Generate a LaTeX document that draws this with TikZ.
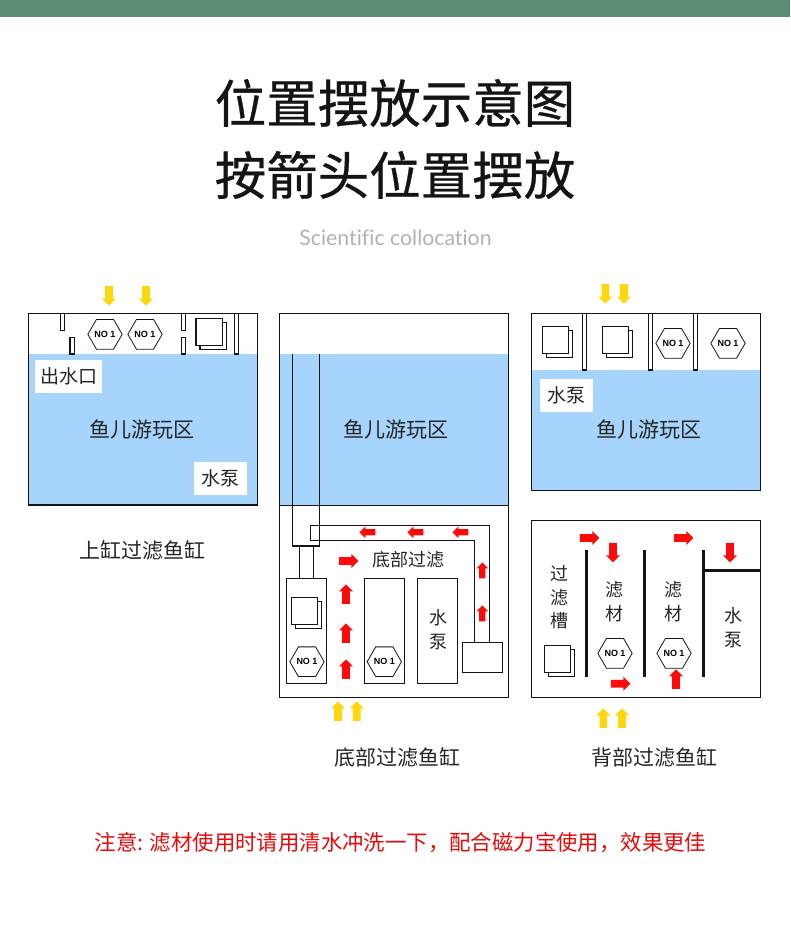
\documentclass[tikz,border=0pt]{standalone}
\usepackage{fontspec}
\usepackage{xcolor}
\setmainfont{Noto Sans CJK SC}
\newfontfamily\titlefont[FakeBold=0.6]{Noto Sans CJK SC}
\newfontfamily\latinfont[Ligatures=NoCommon]{Lato}
\newfontfamily\hexfont{Liberation Sans}
\usetikzlibrary{positioning,shapes.geometric,shapes.arrows}
\definecolor{headgreen}{HTML}{5B8C74}
\definecolor{watercol}{HTML}{A6D4FD}
\definecolor{arrowyellow}{HTML}{FFD60A}
\definecolor{arrowred}{HTML}{FF0A0A}
\definecolor{inkline}{HTML}{141414}

\begin{document}
\begin{tikzpicture}[
  x=1pt, y=-1pt,
  tankline/.style={draw=inkline, line width=1.1pt},
  thickbar/.style={draw=inkline, line width=2.8pt},
  water/.style={fill=watercol},
  tag/.style={fill=white, inner sep=0pt, font=\fontsize{19}{19}\selectfont, text=black!85},
  label/.style={inner sep=0pt, font=\fontsize{21}{21}\selectfont, text=black!85},
  small/.style={inner sep=0pt, font=\fontsize{18}{18}\selectfont, text=black!85},
  hexfilter/.style={draw=inkline, fill=white, line width=0.8pt, regular polygon, regular polygon sides=6, minimum size=32pt, inner sep=0pt, font=\hexfont\bfseries\fontsize{9}{9}\selectfont},
  bigarrow/.style={single arrow, draw=none, inner xsep=0pt, inner ysep=3.6pt, single arrow head extend=3.2pt, minimum height=19.5pt},
  thinarrow/.style={single arrow, draw=none, inner xsep=0pt, inner ysep=2.9pt, single arrow head extend=2.9pt, minimum height=16pt},
  yellowdown/.style={bigarrow, fill=arrowyellow, rotate=270},
  yellowup/.style={bigarrow, fill=arrowyellow, rotate=90},
  redright/.style={bigarrow, fill=arrowred},
  redup/.style={bigarrow, fill=arrowred, rotate=90},
  reddown/.style={bigarrow, fill=arrowred, rotate=270},
  redleft/.style={thinarrow, fill=arrowred, rotate=180},
  redrise/.style={thinarrow, fill=arrowred, rotate=90},
  sheets/.pic={
    \draw[tankline, fill=white] (4,4) rectangle (30.4,31.4);
    \draw[tankline, fill=white] (0,0) rectangle (26.4,27.4);
  }
]
\useasboundingbox (0,0) rectangle (790,937);
\fill[headgreen] (0,0) rectangle (790,17);

% heading
\node[inner sep=0pt, font=\titlefont\fontsize{51.5}{52}\selectfont, text=black!92] (title) at (395,103) {位置摆放示意图};
\node[inner sep=0pt, font=\titlefont\fontsize{51.5}{52}\selectfont, text=black!92] (subtitle) at (395,175) {按箭头位置摆放};
\node[inner sep=0pt, font=\latinfont\fontsize{21.3}{24}\selectfont, text=black!30] (english) at (395.5,238) {Scientific collocation};

% upper tank
\fill[water] (28.3,354) rectangle (257.7,505);
\draw[tankline] (28.3,313.3) rectangle (257.7,505);
\draw[tankline] (60.3,313.3) rectangle (64.5,330.3);
\draw[tankline] (70,337.3) rectangle (74.3,354);
\draw[tankline] (181.3,313.3) rectangle (185.7,330.3);
\draw[tankline] (181.3,337.3) rectangle (185.7,354);
\draw[tankline] (234.3,313.3) rectangle (238.7,354);
\node[hexfilter] (upperhexa) at (105,334.3) {NO 1};
\node[hexfilter] (upperhexb) at (145,334.3) {NO 1};
\pic at (196,318.3) {sheets};
\node[yellowdown] (upperya) at (109,294) {};
\node[yellowdown] (upperyb) at (146,294) {};
\node[tag, minimum width=67pt, minimum height=33pt] (outlet) at (68.5,376.5) {出水口};
\node[tag, minimum width=53pt, minimum height=33pt] (upperpump) at (220.5,478.3) {水泵};
\node[label] (upperfish) at (141.5,429) {鱼儿游玩区};
\node[label] (uppercap) at (142,550) {上缸过滤鱼缸};

% bottom tank
\fill[water] (279.3,354) rectangle (508.7,505.3);
\draw[tankline] (279.3,313.3) rectangle (508.7,697.3);
\draw[tankline] (279.3,505.3) -- (508.7,505.3);
\draw[tankline] (292.3,354) -- (292.3,546) -- (319.3,546) -- (319.3,354);
\draw[tankline] (299.3,546) -- (299.3,578.3);
\draw[tankline] (313.3,546) -- (313.3,578.3);
\draw[tankline] (474.3,642.3) -- (474.3,540.3) -- (310.3,540.3) -- (310.3,525.3) -- (489.7,525.3) -- (489.7,642.3);
\draw[tankline] (286.3,578.3) rectangle (326.3,683.3);
\draw[tankline] (364.3,578.3) rectangle (404.7,683.3);
\draw[tankline] (417.3,578.3) rectangle (457.3,683.3);
\draw[tankline] (462.3,642.3) rectangle (502.7,672.3);
\pic at (291.3,597.3) {sheets};
\node[hexfilter] (bottomhexa) at (307,661.7) {NO 1};
\node[hexfilter] (bottomhexb) at (384.3,661.7) {NO 1};
\node[small] (bottompumpa) at (438,618) {水};
\node[small] (bottompumpb) at (438,642) {泵};
\node[small] (bottomlabel) at (408.7,560) {底部过滤};
\node[label] (bottomfish) at (395.5,429) {鱼儿游玩区};
\node[label] (bottomcap) at (397,757) {底部过滤鱼缸};
\foreach \px [count=\i] in {369,417,462} \node[redleft] (pipeleft\i) at (\px,532.3) {};
\foreach \py [count=\i] in {572,615} \node[redrise] (piperise\i) at (482.3,\py) {};
\node[redright] (bottomred) at (346.8,561) {};
\foreach \py [count=\i] in {596,635,671} \node[redup] (bottomup\i) at (346,\py) {};
\node[yellowup] (bottomya) at (338,713) {};
\node[yellowup] (bottomyb) at (356.7,713) {};

% back tank
\fill[water] (531.3,370) rectangle (760.3,490.3);
\draw[tankline] (531.3,313.3) rectangle (760.3,490.3);
\draw[tankline] (582.3,313.3) rectangle (586.7,370);
\draw[tankline] (648.3,313.3) rectangle (652.7,370);
\draw[tankline] (693.3,313.3) rectangle (697.5,370);
\pic at (542.3,326.3) {sheets};
\pic at (602.3,326.3) {sheets};
\node[hexfilter] (backhexa) at (673,343.3) {NO 1};
\node[hexfilter] (backhexb) at (728,343.3) {NO 1};
\node[yellowdown] (backya) at (605.3,292) {};
\node[yellowdown] (backyb) at (624,292) {};
\node[tag, minimum width=53pt, minimum height=33pt] (backpump) at (566.5,395.5) {水泵};
\node[label] (backfish) at (648.5,429) {鱼儿游玩区};

% back filter
\draw[tankline] (531.3,520.3) rectangle (760.3,697.3);
\draw[thickbar] (586.3,550) -- (586.3,676.7);
\draw[thickbar] (644.7,550) -- (644.7,676.7);
\draw[thickbar] (703.3,550) -- (703.3,676.7);
\draw[thickbar] (703.3,570.3) -- (760.3,570.3);
\node[small] (slota) at (559.3,573.3) {过};
\node[small] (slotb) at (559.3,597.3) {滤};
\node[small] (slotc) at (559.3,620.7) {槽};
\node[small] (mediaa) at (614.3,589.3) {滤};
\node[small] (mediab) at (614.3,614) {材};
\node[small] (mediac) at (673.3,589.3) {滤};
\node[small] (mediad) at (673.3,614) {材};
\node[small] (backpumpa) at (733.3,616) {水};
\node[small] (backpumpb) at (733.3,640) {泵};
\pic at (544.3,645.3) {sheets};
\node[hexfilter] (filterhexa) at (615,653.3) {NO 1};
\node[hexfilter] (filterhexb) at (674,653.3) {NO 1};
\node[redright] (filterra) at (587.8,538) {};
\node[redright] (filterrb) at (681.8,538) {};
\node[redright] (filterrc) at (618.8,683.7) {};
\node[reddown] (filterda) at (613,550.7) {};
\node[reddown] (filterdb) at (730,550.7) {};
\node[redup] (filterup) at (676,681) {};
\node[yellowup] (filterya) at (603.3,720) {};
\node[yellowup] (filteryb) at (622,720) {};
\node[label] (backcap) at (654,757) {背部过滤鱼缸};

% note
\node[inner sep=0pt, font=\fontsize{21.4}{21}\selectfont, text=arrowred!90!black] (note) at (400.5,843) {注意: 滤材使用时请用清水冲洗一下，配合磁力宝使用，效果更佳};
\end{tikzpicture}
\end{document}
